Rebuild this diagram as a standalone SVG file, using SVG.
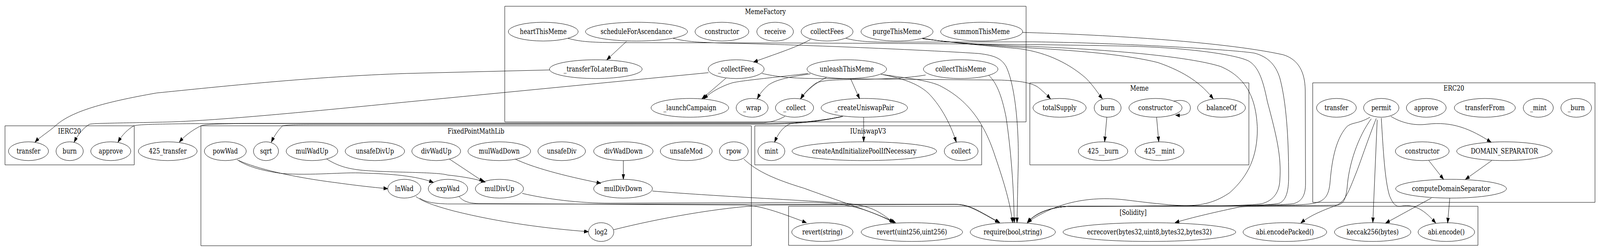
<svg xmlns="http://www.w3.org/2000/svg" width="5113" height="645" viewBox="0 0 5113 645" preserveAspectRatio="none" style="width:100vw;height:100vh;display:block">
<style>
text{font-family:"DejaVu Serif","Liberation Serif",serif;font-size:18.67px;text-anchor:middle;fill:#000}
.n ellipse{fill:none;stroke:#000;stroke-width:1;vector-effect:non-scaling-stroke}
.c rect{fill:none;stroke:#000;stroke-width:1;vector-effect:non-scaling-stroke}
#edges path{fill:none;stroke:#000;stroke-width:1;vector-effect:non-scaling-stroke;marker-end:url(#ah)}
</style>
<defs>
<marker id="ah" markerUnits="userSpaceOnUse" markerWidth="14" markerHeight="10" refX="13.3" refY="4.67" orient="auto"><path d="M0,0 L13.3,4.67 L0,9.33 z" fill="#000" stroke="#000" stroke-width="1"/></marker>
</defs>
<rect width="5113" height="645" fill="#fff"/>
<g id="clusters" class="c">
<g id="cluster_MemeFactory"><rect x="1613" y="16" width="1666" height="296"/><text x="2446" y="36">MemeFactory</text></g>
<g id="cluster_IERC20"><rect x="16" y="322" width="413" height="100"/><text x="222" y="342">IERC20</text></g>
<g id="cluster_FixedPointMathLib"><rect x="642" y="322" width="1759" height="307"/><text x="1521" y="342">FixedPointMathLib</text></g>
<g id="cluster_IUniswapV3"><rect x="2412" y="322" width="725" height="100"/><text x="2774" y="342">IUniswapV3</text></g>
<g id="cluster_Meme"><rect x="3291" y="212" width="700" height="210"/><text x="3641" y="232">Meme</text></g>
<g id="cluster_ERC20"><rect x="4195" y="212" width="902" height="306"/><text x="4646" y="232">ERC20</text></g>
<g id="cluster_Solidity"><rect x="2520" y="528" width="2203" height="100"/><text x="3621" y="550">[Solidity]</text></g>
</g>
<g id="edges">
<path d="M2002,106 L1939,153"/>
<path d="M2590,101 C2545,122 2470,140 2408,159"/>
<path d="M2320,200 L2243,253"/>
<path d="M2582,188 C2480,198 2370,206 2340,212 C2300,222 2268,238 2249,253"/>
<path d="M2590,189 C2530,196 2480,203 2455,218 C2438,230 2428,240 2420,253"/>
<path d="M2641,198 C2612,210 2580,228 2558,253"/>
<path d="M2958,192 C2900,200 2830,202 2770,203 C2680,204 2625,204 2605,214 C2585,226 2568,240 2559,253"/>
<path d="M2718,201 L2747,253"/>
<path d="M2760,300 L2760,363"/>
<path d="M1757,179 L1300,188 C1000,196 700,222 500,238 C330,262 230,285 180,320 C155,338 125,352 112,364"/>
<path d="M2264,186 L1300,261 C1000,285 700,308 547,312 C400,315 300,315 286,318 C268,326 248,345 237,364"/>
<path d="M2690,298 C2620,310 2560,315 2450,316 L700,316 C520,317 445,318 428,322 C410,330 390,345 377,364"/>
<path d="M2508,298 C2490,306 2470,312 2440,314 L800,316 C690,317 655,318 642,322 C622,330 592,345 573,364"/>
<path d="M2692,298 C2620,311 2560,317 2450,318 L1000,319 C940,319 912,320 903,322 C890,332 876,348 867,364"/>
<path d="M2694,298 C2640,308 2560,312 2525,317 C2500,325 2485,345 2475,364"/>
<path d="M2815,190 C2880,200 2930,212 2966,238 C3000,265 3035,310 3056,364"/>
<path d="M2822,191 C2900,200 2960,205 3000,218 C3080,250 3140,300 3180,400 C3210,470 3228,520 3236,570"/>
<path d="M3160,193 C3190,215 3205,260 3215,300 C3230,380 3240,480 3241,570"/>
<path d="M2151,98 C2190,106 2220,108 2300,110 C2600,115 3000,130 3128,137 C3180,142 3200,150 3215,170 C3245,220 3256,330 3254,420 C3252,480 3251,530 3250,570"/>
<path d="M1815,98 C1850,106 1880,108 1950,109 L2500,110 C2900,111 3300,113 3600,118 C3800,122 3950,140 3990,156 C4020,170 4035,200 4050,260 C4080,350 4095,400 4090,460 C4088,500 4060,515 4034,521 C4000,526 3900,527 3800,527 L3420,528 C3350,530 3305,548 3283,570"/>
<path d="M2703,98 C2740,106 2780,108 2850,108 L3300,107 C3600,110 3950,128 4009,136 C4050,145 4076,164 4090,200 C4110,260 4118,350 4118,452 C4118,490 4110,512 4089,520 C4060,526 3950,527 3800,527 L3420,528 C3350,530 3305,548 3283,570"/>
<path d="M3268,83 C3500,88 3900,105 4100,140 C4150,152 4170,185 4171,230 L4172,470 C4172,500 4160,515 4135,521 C4100,526 3900,527 3800,527 L3420,528 C3350,530 3305,548 3283,570"/>
<path d="M2946,98 C3050,112 3200,116 3300,119 C3550,127 3800,145 3900,170 C3990,200 4015,260 4018,330 C4018,400 3990,450 3930,493 C3890,515 3850,525 3800,526 C3760,527 3700,522 3600,512 C3500,502 3420,515 3360,535 C3320,550 3298,560 3284,570"/>
<path d="M2949,98 C3050,112 3200,118 3300,123 C3450,130 3600,140 3700,160 C3790,185 3840,215 3877,253"/>
<path d="M2948,99 C3100,115 3200,120 3260,125 C3350,135 3420,165 3470,200 C3495,220 3510,240 3523,253"/>
<path d="M2435,188 C2480,196 2520,200 2600,201 L3200,205 C3260,207 3300,212 3320,225 C3335,235 3348,245 3357,253"/>
<path d="M3537,300 L3530,363"/>
<path d="M3696,300 L3703,363"/>
<path d="M3750,259 C3790,252 3805,265 3804,277 C3803,290 3790,296 3757,295"/>
<path d="M4378,300 C4340,318 4320,312 4303,325 C4265,360 4255,420 4250,470 C4245,505 4230,518 4185,522 C4150,526 4000,527 3800,527 L3420,528 C3350,530 3305,548 3283,570"/>
<path d="M4382,304 C4340,350 4310,420 4305,480 C4300,515 4290,524 4270,525 C4200,527 4000,526 3960,530 C3900,540 3800,558 3755,570"/>
<path d="M4398,303 C4370,360 4345,420 4335,440 C4310,490 4300,515 4270,526 C4220,540 4180,555 4157,571"/>
<path d="M4401,307 L4387,570"/>
<path d="M4414,302 C4420,380 4425,460 4440,500 C4450,520 4460,530 4475,528 C4510,522 4545,530 4588,571"/>
<path d="M4445,298 C4480,315 4520,322 4560,318 C4640,310 4700,330 4765,364"/>
<path d="M4566,411 L4613,459"/>
<path d="M4767,411 L4683,459"/>
<path d="M4574,507 L4428,571"/>
<path d="M4633,507 L4626,571"/>
<path d="M758,409 C800,425 900,450 1078,468 C1150,476 1200,480 1239,483"/>
<path d="M762,411 C790,425 830,436 900,444 C995,450 1100,440 1160,443 C1250,445 1330,450 1385,467"/>
<path d="M1044,407 C1080,425 1110,432 1160,436 C1250,442 1400,440 1430,448 C1480,452 1520,458 1551,466"/>
<path d="M1436,407 L1545,465"/>
<path d="M1646,407 C1700,428 1800,450 1920,469"/>
<path d="M1992,411 L1992,459"/>
<path d="M1329,503 C1350,515 1380,525 1450,540 C1600,570 1750,585 1880,593"/>
<path d="M1341,507 C1360,518 1390,521 1430,522 L3050,523 C3090,524 3110,532 3193,570"/>
<path d="M1961,588 C2100,560 2300,530 2450,525 L3060,523 C3100,525 3120,536 3195,570"/>
<path d="M1467,503 C1480,515 1495,520 1530,521 L2380,525 C2430,527 2480,540 2577,570"/>
<path d="M1669,495 C1750,510 1850,520 1950,520 L2600,518 C2700,520 2760,530 2858,570"/>
<path d="M2085,489 C2250,500 2500,510 2700,520 C2780,526 2810,540 2855,570"/>
<path d="M2377,407 C2420,440 2480,460 2570,482 C2700,520 2800,545 2862,570"/>
</g>
<g id="nodes" class="n">
<g id="mf_heartThisMeme"><ellipse cx="1736" cy="81" rx="111.5" ry="24"/><text x="1736" y="87">heartThisMeme</text></g>
<g id="mf_scheduleForAscendance"><ellipse cx="2034" cy="81" rx="163" ry="24"/><text x="2034" y="87">scheduleForAscendance</text></g>
<g id="mf_constructor"><ellipse cx="2307" cy="81" rx="86" ry="24"/><text x="2307" y="87">constructor</text></g>
<g id="mf_receive"><ellipse cx="2477" cy="81" rx="58.5" ry="24"/><text x="2477" y="87">receive</text></g>
<g id="mf_collectFees"><ellipse cx="2643" cy="81" rx="83" ry="24"/><text x="2643" y="87">collectFees</text></g>
<g id="mf_purgeThisMeme"><ellipse cx="2866.5" cy="81" rx="115" ry="24"/><text x="2866.5" y="87">purgeThisMeme</text></g>
<g id="mf_summonThisMeme"><ellipse cx="3137" cy="81" rx="131" ry="24"/><text x="3137" y="87">summonThisMeme</text></g>
<g id="mf_transferToLaterBurn"><ellipse cx="1904" cy="177" rx="148" ry="24"/><text x="1904" y="183">_transferToLaterBurn</text></g>
<g id="mf__collectFees"><ellipse cx="2352.5" cy="177" rx="89.5" ry="24"/><text x="2352.5" y="183">_collectFees</text></g>
<g id="mf_unleashThisMeme"><ellipse cx="2706" cy="177" rx="127" ry="24"/><text x="2706" y="183">unleashThisMeme</text></g>
<g id="mf_collectThisMeme"><ellipse cx="3070" cy="177" rx="119" ry="24"/><text x="3070" y="183">collectThisMeme</text></g>
<g id="mf_launchCampaign"><ellipse cx="2204.6" cy="276" rx="124" ry="24"/><text x="2204.6" y="282">_launchCampaign</text></g>
<g id="mf_wrap"><ellipse cx="2403.5" cy="276" rx="51" ry="24"/><text x="2403.5" y="282">_wrap</text></g>
<g id="mf__collect"><ellipse cx="2539" cy="276" rx="61" ry="24"/><text x="2539" y="282">_collect</text></g>
<g id="mf_createUniswapPair"><ellipse cx="2762" cy="276" rx="138" ry="24"/><text x="2762" y="282">_createUniswapPair</text></g>
<g id="ierc20_transfer"><ellipse cx="91" cy="387" rx="64" ry="24"/><text x="91" y="393">transfer</text></g>
<g id="ierc20_burn"><ellipse cx="222.6" cy="387" rx="43.5" ry="24"/><text x="222.6" y="393">burn</text></g>
<g id="ierc20_approve"><ellipse cx="354" cy="387" rx="64" ry="24"/><text x="354" y="393">approve</text></g>
<g id="n425_transfer"><ellipse cx="536" cy="387" rx="94" ry="24"/><text x="536" y="393">425_transfer</text></g>
<g id="fp_powWad"><ellipse cx="720" cy="387" rx="67" ry="24"/><text x="720" y="393">powWad</text></g>
<g id="fp_sqrt"><ellipse cx="850" cy="387" rx="40" ry="24"/><text x="850" y="393">sqrt</text></g>
<g id="fp_mulWadUp"><ellipse cx="997" cy="387" rx="82.5" ry="24"/><text x="997" y="393">mulWadUp</text></g>
<g id="fp_unsafeDivUp"><ellipse cx="1198" cy="387" rx="95" ry="24"/><text x="1198" y="393">unsafeDivUp</text></g>
<g id="fp_divWadUp"><ellipse cx="1394" cy="387" rx="78" ry="24"/><text x="1394" y="393">divWadUp</text></g>
<g id="fp_mulWadDown"><ellipse cx="1595.5" cy="387" rx="100" ry="24"/><text x="1595.5" y="393">mulWadDown</text></g>
<g id="fp_unsafeDiv"><ellipse cx="1795" cy="387" rx="76" ry="24"/><text x="1795" y="393">unsafeDiv</text></g>
<g id="fp_divWadDown"><ellipse cx="1992" cy="387" rx="95" ry="24"/><text x="1992" y="393">divWadDown</text></g>
<g id="fp_unsafeMod"><ellipse cx="2193" cy="387" rx="83" ry="24"/><text x="2193" y="393">unsafeMod</text></g>
<g id="fp_rpow"><ellipse cx="2345" cy="387" rx="46" ry="24"/><text x="2345" y="393">rpow</text></g>
<g id="fp_lnWad"><ellipse cx="1292" cy="483" rx="53" ry="24"/><text x="1292" y="489">lnWad</text></g>
<g id="fp_expWad"><ellipse cx="1431.5" cy="483" rx="63" ry="24"/><text x="1431.5" y="489">expWad</text></g>
<g id="fp_mulDivUp"><ellipse cx="1596" cy="483" rx="77" ry="24"/><text x="1596" y="489">mulDivUp</text></g>
<g id="fp_mulDivDown"><ellipse cx="1991" cy="483" rx="94" ry="24"/><text x="1991" y="489">mulDivDown</text></g>
<g id="fp_log2"><ellipse cx="1921" cy="594" rx="40.5" ry="24"/><text x="1921" y="600">log2</text></g>
<g id="uni_mint"><ellipse cx="2465" cy="387" rx="43" ry="24"/><text x="2465" y="393">mint</text></g>
<g id="uni_createPool"><ellipse cx="2762" cy="387" rx="231" ry="24"/><text x="2762" y="393">createAndInitializePoolIfNecessary</text></g>
<g id="uni_collect"><ellipse cx="3071.5" cy="387" rx="54" ry="24"/><text x="3071.5" y="393">collect</text></g>
<g id="meme_totalSupply"><ellipse cx="3386" cy="276" rx="85" ry="24"/><text x="3386" y="282">totalSupply</text></g>
<g id="meme_burn"><ellipse cx="3539.6" cy="276" rx="43" ry="24"/><text x="3539.6" y="282">burn</text></g>
<g id="meme_constructor"><ellipse cx="3692.5" cy="276" rx="85" ry="24"/><text x="3692.5" y="282">constructor</text></g>
<g id="meme_balanceOf"><ellipse cx="3903.4" cy="276" rx="76.6" ry="24"/><text x="3903.4" y="282">balanceOf</text></g>
<g id="meme_425_burn"><ellipse cx="3525" cy="387" rx="79" ry="24"/><text x="3525" y="393">425__burn</text></g>
<g id="meme_425_mint"><ellipse cx="3705.5" cy="387" rx="78" ry="24"/><text x="3705.5" y="393">425__mint</text></g>
<g id="erc20_transfer"><ellipse cx="4270.7" cy="276" rx="63.6" ry="24"/><text x="4270.7" y="282">transfer</text></g>
<g id="erc20_permit"><ellipse cx="4414" cy="276" rx="56.5" ry="24"/><text x="4414" y="282">permit</text></g>
<g id="erc20_approve"><ellipse cx="4557.8" cy="276" rx="63.6" ry="24"/><text x="4557.8" y="282">approve</text></g>
<g id="erc20_transferFrom"><ellipse cx="4745" cy="276" rx="97.6" ry="24"/><text x="4745" y="282">transferFrom</text></g>
<g id="erc20_mint"><ellipse cx="4915.8" cy="276" rx="48" ry="24"/><text x="4915.8" y="282">_mint</text></g>
<g id="erc20_burn"><ellipse cx="5037" cy="276" rx="49" ry="24"/><text x="5037" y="282">_burn</text></g>
<g id="erc20_constructor"><ellipse cx="4545" cy="387" rx="86" ry="24"/><text x="4545" y="393">constructor</text></g>
<g id="erc20_DOMAIN_SEPARATOR"><ellipse cx="4807.5" cy="387" rx="152.4" ry="24"/><text x="4807.5" y="393">DOMAIN_SEPARATOR</text></g>
<g id="erc20_computeDomainSeparator"><ellipse cx="4637" cy="483" rx="177" ry="24"/><text x="4637" y="489">computeDomainSeparator</text></g>
<g id="sol_revert_string"><ellipse cx="2628" cy="594" rx="98" ry="24"/><text x="2628" y="600">revert(string)</text></g>
<g id="sol_revert_uint"><ellipse cx="2914" cy="594" rx="162" ry="24"/><text x="2914" y="600">revert(uint256,uint256)</text></g>
<g id="sol_require"><ellipse cx="3236.5" cy="594" rx="136" ry="24"/><text x="3236.5" y="600">require(bool,string)</text></g>
<g id="sol_ecrecover"><ellipse cx="3673" cy="594" rx="276" ry="24"/><text x="3673" y="600">ecrecover(bytes32,uint8,bytes32,bytes32)</text></g>
<g id="sol_abi_encodePacked"><ellipse cx="4106" cy="594" rx="133.6" ry="24"/><text x="4106" y="600">abi.encodePacked()</text></g>
<g id="sol_keccak256"><ellipse cx="4386.5" cy="594" rx="122" ry="24"/><text x="4386.5" y="600">keccak256(bytes)</text></g>
<g id="sol_abi_encode"><ellipse cx="4622" cy="594" rx="90.4" ry="24"/><text x="4622" y="600">abi.encode()</text></g>
</g>
</svg>
